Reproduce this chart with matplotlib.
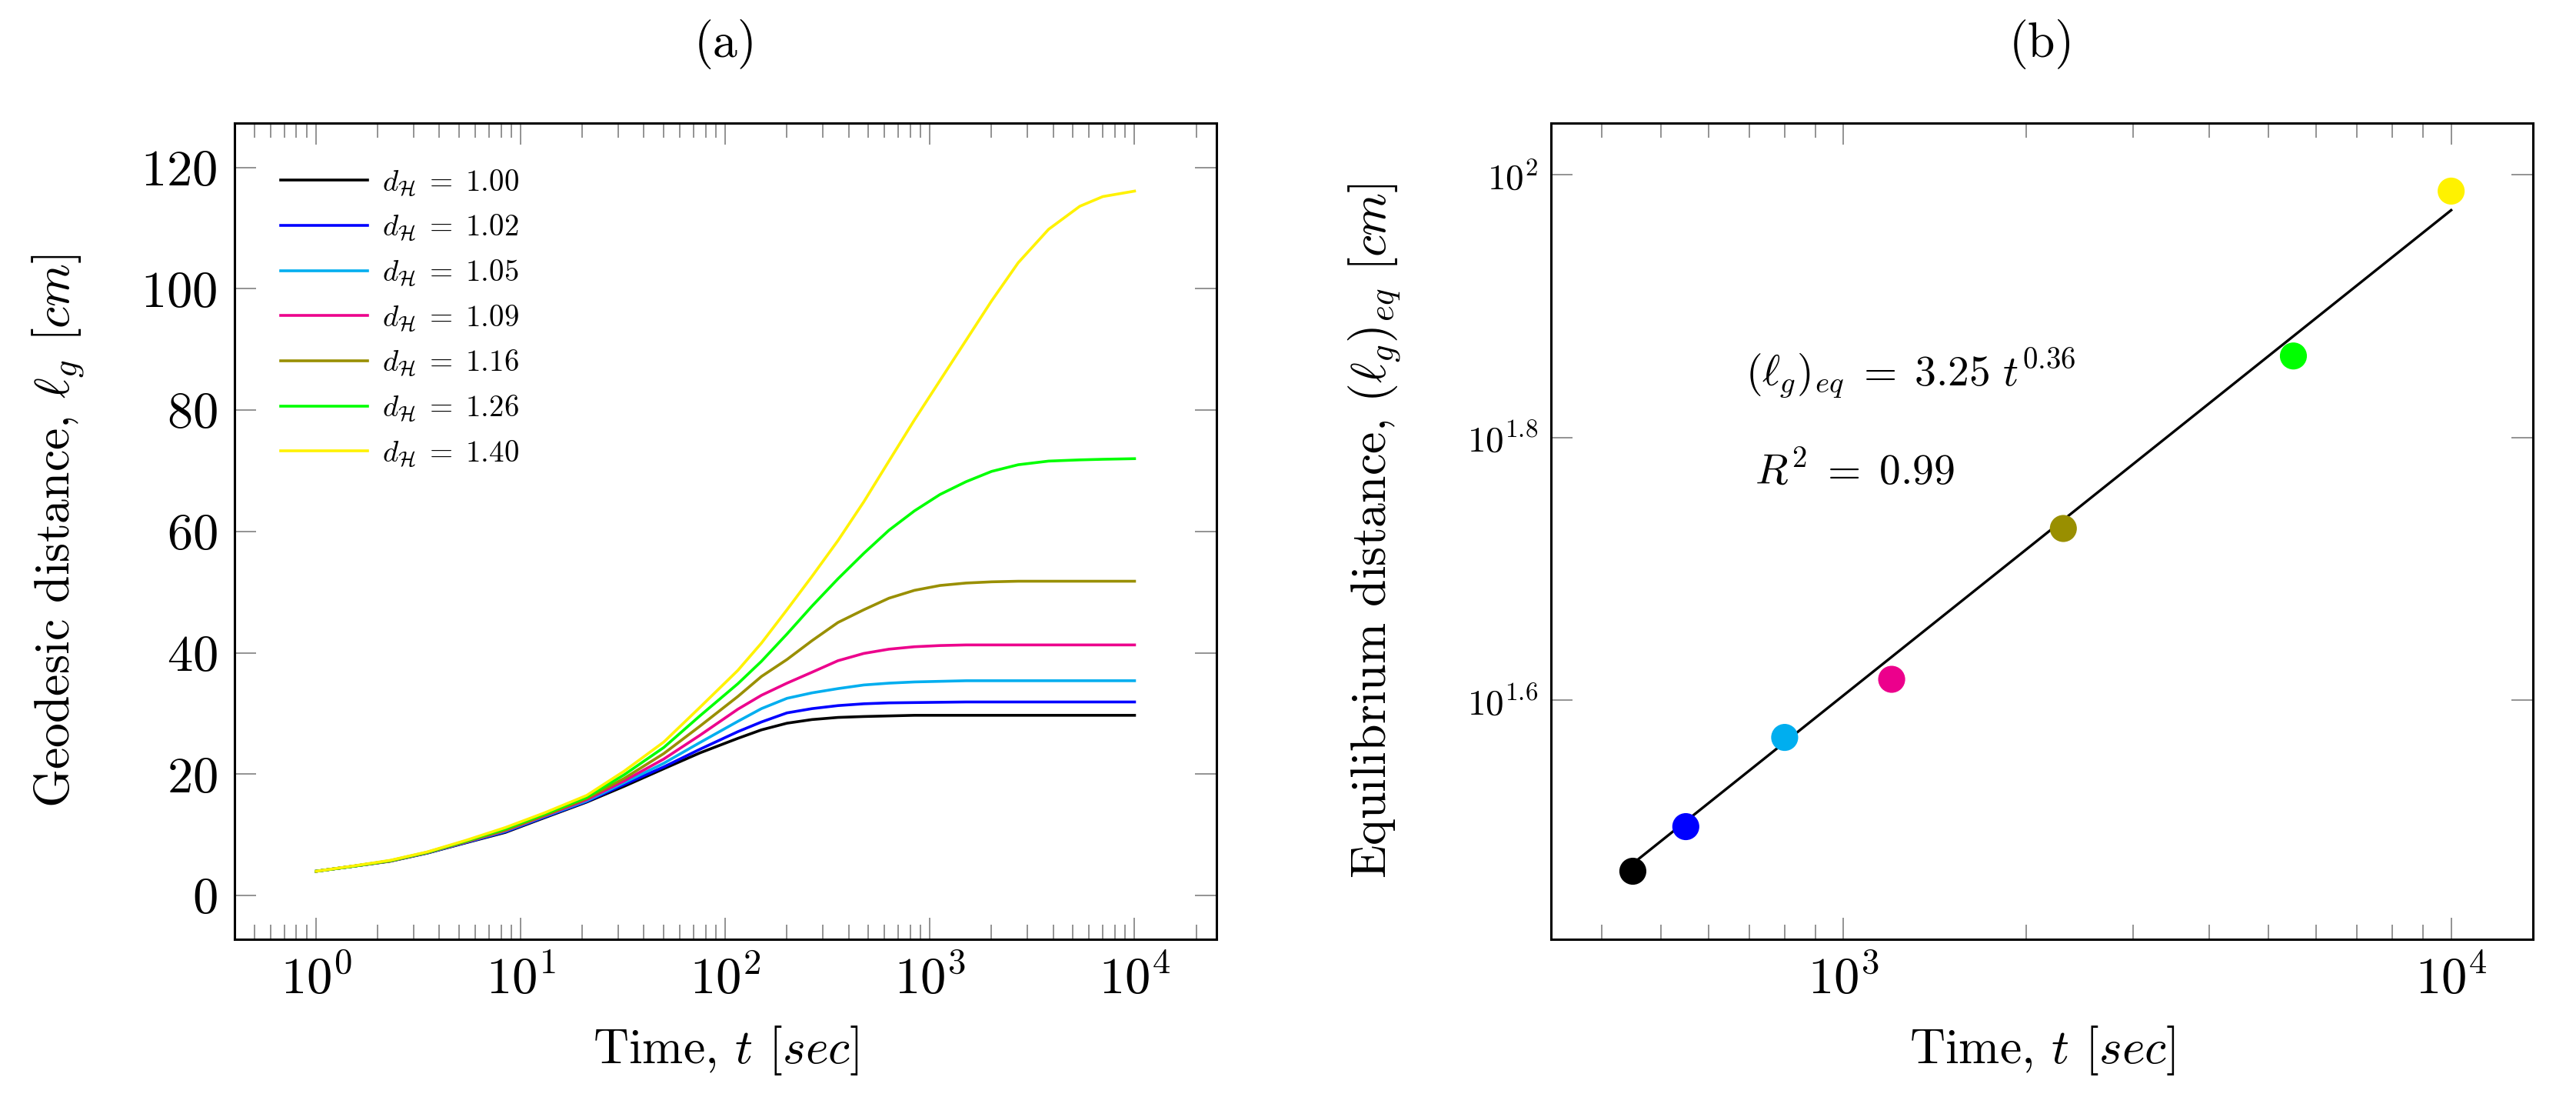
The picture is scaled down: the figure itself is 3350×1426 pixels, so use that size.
import numpy as np
import matplotlib
matplotlib.use('Agg')
import matplotlib.pyplot as plt
from matplotlib.ticker import LogLocator, NullFormatter, NullLocator

plt.rcParams['font.family'] = 'cmr10'
plt.rcParams['mathtext.fontset'] = 'cm'
plt.rcParams['axes.unicode_minus'] = False
plt.rcParams['axes.formatter.use_mathtext'] = True

# (a) geodesic distance vs time, one curve per fractal dimension
t = [1, 1.5, 2.3, 3.5, 5.4, 8.4, 13, 21, 32, 50, 75, 115, 150, 200, 265, 355,
     475, 630, 840, 1120, 1500, 2000, 2700, 3800, 5400, 7000, 10000]
lg_100 = [4.0, 4.8, 5.65, 7.0, 8.7, 10.4, 12.8, 15.4, 18.0, 20.9, 23.5, 25.9, 27.3, 28.4,
          29.0, 29.35, 29.5, 29.6, 29.7, 29.7, 29.7, 29.7, 29.7, 29.7, 29.7, 29.7, 29.7]
lg_102 = [4.0, 4.8, 5.7, 7.05, 8.75, 10.5, 12.9, 15.5, 18.3, 21.2, 24.1, 27.0, 28.6, 30.1,
          30.8, 31.3, 31.6, 31.75, 31.8, 31.85, 31.9, 31.9, 31.9, 31.9, 31.9, 31.9, 31.9]
lg_105 = [4.0, 4.8, 5.7, 7.05, 8.8, 10.6, 13.0, 15.6, 18.6, 21.8, 25.2, 28.7, 30.8, 32.5,
          33.4, 34.1, 34.7, 35.0, 35.2, 35.3, 35.4, 35.4, 35.4, 35.4, 35.4, 35.4, 35.4]
lg_109 = [4.0, 4.8, 5.7, 7.1, 8.85, 10.7, 13.1, 15.8, 18.9, 22.5, 26.4, 30.7, 33.0, 35.0,
          36.8, 38.7, 39.9, 40.6, 41.0, 41.2, 41.3, 41.3, 41.3, 41.3, 41.3, 41.3, 41.3]
lg_116 = [4.0, 4.8, 5.7, 7.1, 8.9, 10.8, 13.2, 16.0, 19.3, 23.4, 27.9, 32.8, 36.1, 38.9,
          42.0, 45.0, 47.1, 49.0, 50.3, 51.1, 51.5, 51.7, 51.8, 51.8, 51.8, 51.8, 51.8]
lg_126 = [4.0, 4.8, 5.75, 7.15, 9.0, 11.0, 13.4, 16.2, 19.9, 24.4, 29.6, 34.9, 38.6, 43.1,
          47.7, 52.2, 56.4, 60.2, 63.4, 66.1, 68.2, 69.9, 71.0, 71.6, 71.8, 71.9, 72.0]
lg_140 = [4.0, 4.85, 5.8, 7.2, 9.1, 11.2, 13.6, 16.5, 20.5, 25.3, 31.0, 37.1, 41.6, 47.1,
          52.6, 58.5, 64.9, 71.6, 78.4, 84.9, 91.5, 98.0, 104.3, 109.8, 113.6, 115.2, 116.1]

dims = ['1.00', '1.02', '1.05', '1.09', '1.16', '1.26', '1.40']
colors = ['black', '#0000FF', '#00AEEF', '#EC008C', '#998F00', '#00FF00', '#FFF200']
curves = [lg_100, lg_102, lg_105, lg_109, lg_116, lg_126, lg_140]

# (b) equilibrium distance and power-law fit
t_eq = [450, 550, 800, 1200, 2300, 5500, 10000]
lg_eq = [29.5, 31.9, 37.3, 41.3, 53.8, 72.8, 97.2]
fit_t = [450, 10000]
fit_lg = [29.9, 94.0]


def enlarge(lo, hi, log=False):
    # pgfplots style: 10% extra on both ends
    if log:
        lo, hi = np.log10(lo), np.log10(hi)
    d = 0.1 * (hi - lo)
    lo, hi = lo - d, hi + d
    if log:
        return 10 ** lo, 10 ** hi
    return lo, hi


def style(ax):
    ax.tick_params(which='both', direction='in', top=True, right=True,
                   color='#808080', width=0.6)
    ax.tick_params(which='major', length=10)
    ax.tick_params(which='minor', length=6.9)
    for s in ax.spines.values():
        s.set_linewidth(1.1)


fig = plt.figure(figsize=(16.75, 7.13), dpi=200)
ax1 = fig.add_axes([0.0910, 0.1438, 0.3812, 0.7440])
ax2 = fig.add_axes([0.6021, 0.1438, 0.3812, 0.7440])

for lg, c, d in zip(curves, colors, dims):
    ax1.plot(t, lg, color=c, lw=1.3, label=r'$d_{\mathcal{H}}\;=\;%s$' % d)

ax1.set_xscale('log')
ax1.set_xlim(*enlarge(min(t), max(t), log=True))
ax1.set_ylim(*enlarge(min(min(c) for c in curves), max(max(c) for c in curves)))
ax1.set_xticks([1, 10, 100, 1000, 10000],
               labels=[r'$10^{0}$', r'$10^{1}$', r'$10^{2}$', r'$10^{3}$', r'$10^{4}$'])
ax1.xaxis.set_minor_locator(LogLocator(base=10, subs=np.arange(2, 10), numticks=100))
ax1.xaxis.set_minor_formatter(NullFormatter())
ax1.set_yticks([0, 20, 40, 60, 80, 100, 120])
style(ax1)
ax1.tick_params(which='major', labelsize=24, pad=8)
ax1.set_xlabel(r'Time, $t$ $[sec]$', fontsize=23)
ax1.set_ylabel(r'Geodesic distance, $\ell_g$ $[cm]$', fontsize=23)
ax1.xaxis.set_label_coords(0.5, -0.104)
ax1.yaxis.set_label_coords(-0.150, 0.5)
ax1.set_title('(a)', fontsize=23, pad=31)
ax1.legend(loc='upper left', bbox_to_anchor=(0.047, 0.945), frameon=False, fontsize=14,
           handlelength=2.9, handletextpad=0.5, labelspacing=0.5, borderpad=0,
           borderaxespad=0)

ax2.plot(fit_t, fit_lg, color='black', lw=1.2)
ax2.scatter(t_eq, lg_eq, c=colors, s=160, zorder=3, edgecolors='none')
ax2.set_xscale('log')
ax2.set_yscale('log')
ax2.set_xlim(*enlarge(min(t_eq), max(t_eq), log=True))
ax2.set_ylim(*enlarge(min(lg_eq), max(lg_eq), log=True))
ax2.set_xticks([1000, 10000], labels=[r'$10^{3}$', r'$10^{4}$'])
ax2.xaxis.set_minor_locator(LogLocator(base=10, subs=np.arange(2, 10), numticks=100))
ax2.xaxis.set_minor_formatter(NullFormatter())
ax2.set_yticks([10 ** 1.6, 10 ** 1.8, 100],
               labels=[r'$10^{1.6}$', r'$10^{1.8}$', r'$10^{2}$'])
ax2.yaxis.set_minor_locator(NullLocator())
style(ax2)
ax2.tick_params(axis='x', which='major', labelsize=24, pad=8)
ax2.tick_params(axis='y', which='major', labelsize=17, pad=6)
ax2.set_xlabel(r'Time, $t$ $[sec]$', fontsize=23)
ax2.set_ylabel(r'Equilibrium distance, $(\ell_g)_{eq}$ $[cm]$', fontsize=23)
ax2.xaxis.set_label_coords(0.5, -0.104)
ax2.yaxis.set_label_coords(-0.150, 0.5)
ax2.set_title('(b)', fontsize=23, pad=31)
ax2.text(0.198, 0.679, r'$(\ell_g)_{eq}\;=\;3.25\ t^{0.36}$', transform=ax2.transAxes,
         fontsize=20, va='baseline', ha='left')
ax2.text(0.2075, 0.558, r'$R^2\;=\;0.99$', transform=ax2.transAxes,
         fontsize=20, va='baseline', ha='left')

fig.savefig('out.png', dpi=200)
